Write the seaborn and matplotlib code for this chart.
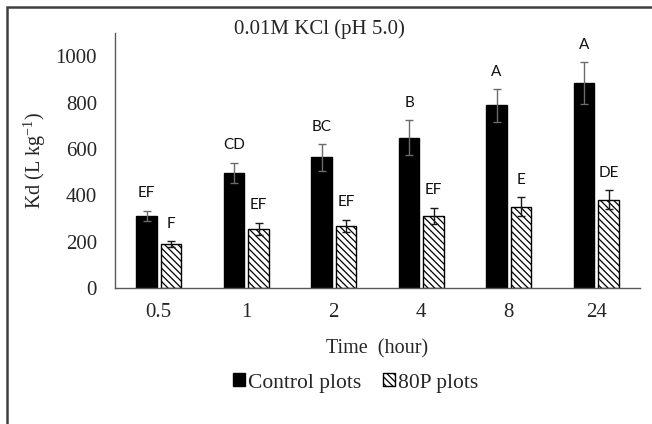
import matplotlib
matplotlib.use("Agg")
import matplotlib.pyplot as plt
import seaborn as sns
import pandas as pd
from matplotlib.patches import Rectangle

times = ['0.5', '1', '2', '4', '8', '24']
control = [312, 498, 563, 649, 788, 883]
control_err = [22, 43, 57, 74, 70, 91]
p80 = [190, 255, 268, 312, 351, 381]
p80_err = [12, 26, 26, 35, 40, 40]
control_letters = ['EF', 'CD', 'BC', 'B', 'A', 'A']
p80_letters = ['F', 'EF', 'EF', 'EF', 'E', 'DE']
groups = ['Control plots', '80P plots']

df = pd.DataFrame({
    'Time': times * 2,
    'Kd': control + p80,
    'Group': [groups[0]] * len(times) + [groups[1]] * len(times),
})

sns.set_style("white")
plt.rcParams['font.family'] = ['Liberation Serif', 'DejaVu Serif']
plt.rcParams['mathtext.fontset'] = 'custom'
plt.rcParams['mathtext.rm'] = 'Liberation Serif'
plt.rcParams['hatch.linewidth'] = 0.9
plt.rcParams['hatch.color'] = 'black'

fig = plt.figure(figsize=(6.52, 4.24), dpi=100)
ax = fig.add_axes([115 / 652, 1 - 288 / 424, 525 / 652, 255 / 424])

sns.barplot(data=df, x='Time', y='Kd', hue='Group', order=times, hue_order=groups,
            palette={groups[0]: 'black', groups[1]: 'white'}, saturation=1,
            width=0.56, gap=0.18, edgecolor='black', linewidth=1,
            errorbar=None, legend=False, ax=ax)

for p in ax.containers[1]:
    p.set_hatch('\\\\\\\\\\')

# error bars and significance letters
for cont, errs, letters, ecol in [(ax.containers[0], control_err, control_letters, '#6b6b6b'),
                                  (ax.containers[1], p80_err, p80_letters, '#1a1a1a')]:
    for p, e, lab in zip(cont, errs, letters):
        cx = p.get_x() + p.get_width() / 2
        h = p.get_height()
        ax.errorbar(cx, h, yerr=e, fmt='none', ecolor=ecol, elinewidth=1, capsize=3, capthick=1)
        ax.text(cx, h + e + 75, lab, ha='center', va='center', fontfamily='Lato', fontsize=11, color='#111111')

ax.set_xlim(-0.5, 5.5)
ax.set_ylim(0, 1100)
ax.set_yticks([0, 200, 400, 600, 800, 1000])
ax.tick_params(axis='y', length=0, pad=13, labelsize=15)
ax.tick_params(axis='x', length=0, pad=11, labelsize=15)
for s in ['top', 'right']:
    ax.spines[s].set_visible(False)
for s in ['left', 'bottom']:
    ax.spines[s].set_color('#595959')
    ax.spines[s].set_linewidth(1)

ax.set_ylabel('Kd (L kg$^{\\mathrm{-1}}$)', fontsize=14.5)
ax.yaxis.set_label_coords(-0.128, 0.5)
ax.set_xlabel('Time  (hour)', fontsize=14.5)
ax.xaxis.set_label_coords(0.5, -0.2)

fig.text(319 / 652, 1 - 29 / 424, '0.01M KCl (pH 5.0)', ha='center', va='center', fontsize=15)

fig.legend(handles=[ax.containers[0][0], ax.containers[1][0]], labels=groups,
           loc='center', bbox_to_anchor=(356 / 652, 1 - 383 / 424), ncol=2, frameon=False,
           fontsize=15.5, handlelength=0.55, handleheight=0.55, handletextpad=0.15,
           columnspacing=1.0)

# outer chart frame (only top and left edges visible)
fig.patches.append(Rectangle((7 / 652, -0.2), 1.2, 1.2 - 7 / 424, transform=fig.transFigure,
                             fill=False, edgecolor='#404040', linewidth=1.8))

fig.savefig('out.png', dpi=100)
